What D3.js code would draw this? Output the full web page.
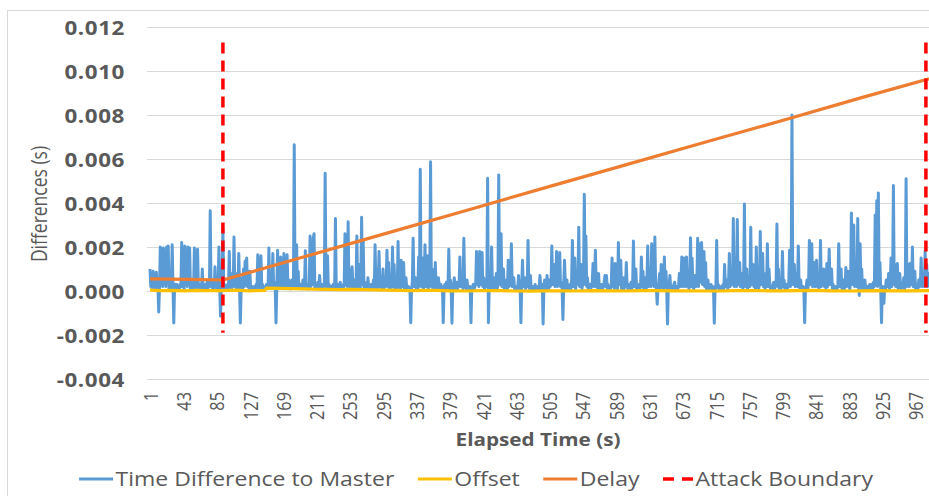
<!DOCTYPE html>
<html><head><meta charset="utf-8">
<script src="https://cdn.jsdelivr.net/npm/d3@7"></script>
<style>body{margin:0;background:#fff}svg{display:block}</style>
</head><body><svg id="c" width="929" height="496"></svg>
<script>
// ---- data (values in milliseconds; the axis shows seconds) ----
const xTickLabels = [1,43,85,127,169,211,253,295,337,379,421,463,505,547,589,631,673,715,757,799,841,883,925,967];
const yTickValues = [-0.004,-0.002,0,0.002,0.004,0.006,0.008,0.010,0.012];
const seriesNames = ["Time Difference to Master","Offset","Delay","Attack Boundary"];
const seriesColors = ["#5b9bd5","#ffc000","#ed7d31","#ff0000"];

// one value per elapsed second, starting at second 1
const timeDiffMs = [
1.0,0.2,0.8,0.1,0.9,0.2,0.7,0.1,0.85,0.2,
0.3,-0.95,0.2,2.0,0.3,1.9,0.2,1.95,0.4,1.8,
0.2,2.0,0.8,2.05,0.1,0.3,0.1,0.4,2.1,0.2,
-1.45,0.2,0.3,0.1,0.3,0.1,0.2,0.1,0.3,0.2,
2.2,0.2,0.5,0.1,2.05,0.3,1.8,0.2,2.0,0.4,
1.95,0.1,0.4,0.1,0.3,0.1,1.95,0.2,1.2,0.1,
1.9,0.2,0.3,0.1,0.3,0.1,1.0,0.1,0.3,0.1,
0.3,0.1,0.4,0.1,0.3,0.2,3.65,0.2,0.4,0.1,
0.5,0.1,1.1,0.2,0.4,0.1,0.3,2.0,0.2,-1.15,
0.2,0.3,2.85,0.1,0.3,0.1,0.2,0.1,0.3,0.1,
1.8,0.2,0.6,0.1,0.8,0.2,2.45,0.2,0.8,0.1,
0.3,0.1,1.7,0.2,-1.45,0.1,0.6,0.1,1.0,0.2,
1.35,0.3,1.5,0.2,0.9,0.1,0.9,0.1,0.2,0.1,
0.2,0.1,0.1,0.2,0.3,0.1,1.65,0.2,0.8,0.1,
1.6,0.2,0.3,0.1,0.2,0.1,0.1,0.3,0.2,0.1,
1.95,0.2,0.5,0.1,0.2,1.7,0.2,0.4,0.1,-1.45,
0.2,1.85,0.2,0.6,0.1,1.55,0.2,0.8,0.1,1.7,
0.2,1.0,0.1,1.65,0.2,0.5,0.1,0.4,0.1,0.5,
0.2,0.2,6.65,0.2,0.6,2.1,0.2,0.9,0.1,0.3,
0.3,0.1,0.2,0.5,0.1,0.3,1.83,0.2,0.1,0.3,
0.1,0.4,2.5,0.2,1.0,0.3,2.4,2.6,0.1,0.3,
0.1,0.2,0.4,0.1,0.7,0.2,0.1,0.3,0.1,0.2,
0.3,5.35,0.2,0.4,1.6,0.1,0.3,0.2,0.1,0.2,
0.1,0.3,0.1,0.2,3.3,0.1,0.2,0.3,0.1,0.2,
0.4,0.1,0.2,0.1,0.3,0.2,2.6,0.3,1.4,0.2,
3.15,0.2,1.0,0.1,0.3,1.1,0.2,0.4,0.5,0.1,
0.3,2.5,0.2,0.5,1.2,0.1,0.4,3.35,0.3,2.3,
0.1,0.4,0.1,0.2,0.1,0.6,0.1,0.2,0.1,0.3,
0.1,0.2,0.5,0.1,2.1,0.2,1.0,0.1,0.3,1.8,
0.2,0.6,0.1,0.3,1.0,0.1,0.4,0.2,0.3,1.85,
0.2,1.3,0.1,0.5,0.1,0.3,2.0,0.2,1.2,0.1,
0.3,0.6,0.1,2.25,0.2,0.5,0.1,1.4,0.2,0.3,
1.3,0.1,0.2,0.6,0.1,0.2,0.2,0.1,0.1,-1.44,
0.1,0.4,2.4,0.2,0.3,0.6,0.1,0.3,0.1,1.55,
0.2,5.53,0.3,0.2,1.5,0.1,0.4,2.1,0.2,0.3,
1.6,0.1,0.2,0.4,5.88,0.2,1.0,0.1,0.3,0.2,
1.3,0.1,0.3,0.1,0.6,0.1,0.2,0.3,0.1,0.2,
-1.44,0.1,0.3,0.1,0.4,0.1,0.2,1.9,0.1,0.5,
0.1,-1.47,0.2,0.3,0.6,0.1,0.2,0.4,0.1,0.2,
0.3,1.55,0.2,0.4,0.6,0.1,2.4,0.2,0.3,0.1,
0.5,0.1,0.2,0.1,0.2,-1.44,0.1,0.2,0.3,0.1,
0.2,0.4,1.8,0.3,1.0,0.2,1.8,0.4,0.3,1.75,
0.2,0.6,0.1,0.3,0.5,0.2,5.12,-1.44,0.2,0.6,
0.1,2.0,0.3,0.2,0.1,0.6,0.2,0.8,0.1,0.3,
5.27,0.3,0.4,2.6,0.2,0.3,1.0,0.1,0.2,0.1,
0.5,0.1,1.4,0.2,0.3,0.4,2.15,0.2,0.3,0.6,
0.1,0.2,0.1,0.2,0.1,0.7,0.2,0.1,-1.44,0.2,
1.4,0.2,0.3,0.6,0.1,0.3,0.2,2.3,0.2,0.1,
0.7,0.1,0.2,0.1,0.2,0.1,0.3,0.1,0.2,0.1,
0.2,0.1,0.7,0.2,0.1,0.3,-1.5,0.1,0.5,0.2,
0.1,0.7,0.2,0.1,0.5,0.2,0.3,2.05,0.3,0.5,
1.2,0.2,0.4,1.8,0.2,1.1,0.3,1.75,0.2,0.4,
0.1,-1.29,0.2,1.4,0.3,0.1,0.5,0.1,0.2,0.1,
0.3,0.1,0.5,2.3,0.2,0.6,1.5,0.1,0.4,0.3,
0.5,2.9,0.2,0.6,1.2,0.1,0.3,0.5,4.4,0.3,
2.5,0.2,0.6,0.1,0.2,0.3,0.1,0.2,0.4,1.25,
0.2,0.5,1.85,0.2,0.4,0.1,0.8,0.1,0.2,0.1,
0.3,0.1,0.2,0.4,0.7,0.2,0.7,0.1,0.3,0.1,
0.2,0.1,0.3,1.5,0.2,0.4,0.1,1.25,0.2,0.6,
0.1,2.2,0.3,0.5,1.4,0.1,0.3,0.6,0.1,0.2,
0.3,1.3,0.2,0.1,0.3,0.1,0.2,0.4,0.1,0.3,
2.27,0.2,0.4,1.0,0.1,0.2,0.1,0.3,0.1,0.2,
1.55,0.2,0.9,0.1,0.3,0.6,0.1,0.3,2.05,0.2,
0.4,1.0,0.2,2.15,0.3,1.2,0.2,2.45,0.3,0.1,
-0.6,0.2,0.4,0.8,0.1,1.2,0.2,0.6,0.1,1.55,
0.2,0.9,0.1,-1.5,0.2,0.3,0.7,0.1,0.2,0.2,
0.1,0.3,0.4,0.1,0.2,0.2,0.1,0.3,0.8,0.2,
0.5,1.55,0.2,0.6,1.5,0.2,0.4,1.55,0.2,0.9,
0.1,0.4,2.42,0.2,1.5,0.3,0.1,0.4,0.7,0.2,
0.3,2.4,0.2,2.15,0.4,1.2,2.2,0.3,0.5,1.8,
0.2,1.3,0.1,0.3,0.5,0.1,0.2,0.1,0.3,0.1,
0.2,0.1,-1.47,0.2,0.1,2.3,0.2,0.3,0.1,0.2,
0.1,0.2,0.1,0.3,0.1,1.2,0.2,0.4,0.5,0.1,
0.4,1.7,0.2,0.5,1.0,0.3,3.3,0.2,0.6,1.5,
0.2,3.25,0.3,0.5,1.3,0.2,0.4,0.8,0.1,0.3,
3.95,0.2,0.5,1.0,0.1,0.3,0.6,0.2,2.9,0.3,
0.5,1.2,0.2,0.8,0.1,2.0,0.2,0.6,0.1,0.3,
2.7,0.3,0.5,1.7,0.2,0.8,0.1,0.3,0.2,2.15,
0.2,1.0,0.3,0.1,0.2,0.1,0.3,0.4,0.1,0.2,
0.3,3.05,0.2,1.0,0.1,0.3,0.1,0.2,1.8,0.2,
0.5,0.1,0.2,0.3,0.1,0.2,0.4,1.85,0.2,0.6,
8.0,0.3,0.5,1.2,0.2,0.3,0.8,0.2,2.05,0.3,
0.1,0.5,0.1,0.2,0.2,0.1,-1.44,0.1,0.2,0.5,
0.1,0.4,2.3,0.3,0.6,2.15,0.2,0.5,1.3,0.2,
0.4,1.4,0.2,0.7,0.1,0.3,2.3,0.2,0.5,0.3,
1.0,0.2,0.6,0.1,1.25,0.2,0.5,1.9,0.3,0.4,
1.0,0.1,0.3,0.1,0.2,0.1,0.2,0.1,0.3,2.15,
0.2,0.4,1.0,0.1,0.3,0.5,0.1,0.2,1.07,0.2,
0.3,0.9,0.2,0.1,0.4,3.55,0.3,0.6,3.0,0.2,
0.5,1.3,0.2,3.3,0.3,-0.2,2.15,0.2,1.0,0.1,
0.3,0.1,0.5,0.1,0.2,0.1,0.2,0.1,0.3,0.1,
0.2,0.3,0.1,0.4,0.2,3.45,0.3,4.1,0.2,4.45,
0.3,1.3,0.1,-1.44,0.2,0.1,-0.56,0.2,0.1,0.5,
0.2,0.3,0.8,0.1,0.4,1.5,0.2,0.5,4.8,0.3,
1.2,0.2,0.4,1.25,0.1,0.3,0.8,0.2,0.1,0.3,
0.2,0.6,0.1,0.3,5.1,0.2,0.5,1.2,0.2,1.25,
0.3,0.5,2.0,0.2,0.4,0.9,0.1,0.3,0.2,0.1,
0.5,0.2,0.3,1.5,0.2,0.4,0.8,0.2,1.8,0.3,
1.2,0.2,0.8,0.3
];
const elapsedSeconds = timeDiffMs.map((v,i)=>i+1);

// [elapsed s, ms]
const offsetMs = [
[1,0.04],[15,0.02],[30,0.03],[45,0.01],[60,0.03],[75,0.02],[93,0.02],[110,0.04],[125,0.01],[146,0.03],[148,0.13],[165,0.12],[180,0.11],[195,0.1],[210,0.08],[225,0.07],[240,0.06],[255,0.07],[270,0.06],[285,0.05],[300,0.04],[315,0.03],[330,0.02],[345,0.03],[360,0.03],[380,0.01],[400,0.0],[420,0.02],[440,0.02],[460,0.0],[480,-0.01],[500,0.01],[520,0.01],[540,0.0],[560,0.02],[580,0.01],[600,0.0],[620,0.02],[640,0.02],[660,0.01],[680,0.01],[700,0.0],[720,0.0],[740,0.02],[760,0.02],[780,0.01],[800,0.01],[820,0.02],[840,0.03],[860,0.01],[880,0.0],[900,0.01],[920,0.02],[940,0.01],[960,0.01],[984,0.02]
];
const delayMs = [[1,0.55],[50,0.53],[93,0.5],[200,1.6],[300,2.63],[400,3.66],[500,4.7],[600,5.72],[700,6.75],[800,7.76],[900,8.8],[984,9.65]];

const attackBoundaryTimes = [93, 980];
const attackBoundaryRangeMs = [-1.9, 11.3];

// ---- drawing ----
const SX = 1.15;   // horizontal stretch of the original's text
const SXR = 1.22;  // same stretch for rotated text (acts on glyph height)
const svg = d3.select("#c");
svg.append("rect").attr("width",929).attr("height",496).attr("fill","#fff");
svg.append("rect").attr("x",7.5).attr("y",10.5).attr("width",960).attr("height",520)
  .attr("fill","none").attr("stroke","#d9d9d9");

const plotLeft = 147, plotRight = 929;
const x = d3.scaleLinear().domain([1,967]).range([150,915.6]);
const y = d3.scaleLinear().domain([-0.004,0.012]).range([379,27]);
const ms = v => v/1000;
const fmt = v => d3.format(".3f")(v).replace("\u2212","-");
const grey = "#595959";
const font = "'Open Sans', 'Liberation Sans', sans-serif";

// gridlines
const grid = svg.append("g").attr("transform",`translate(${plotLeft},0)`)
  .call(d3.axisLeft(y).tickValues(yTickValues).tickSize(-(plotRight-plotLeft)).tickFormat(""));
grid.select(".domain").remove();
grid.selectAll("line").attr("stroke","#d9d9d9").attr("stroke-width",1);

// y labels
const yAx = svg.append("g").attr("transform","translate(125,0)")
  .call(d3.axisLeft(y).tickValues(yTickValues).tickSize(0).tickPadding(0).tickFormat(fmt));
yAx.select(".domain").remove();
yAx.selectAll("text").attr("x",0).attr("dy","0.36em")
  .attr("transform",`scale(${SX},1)`)
  .style("font-family",font).style("font-weight","bold").style("font-size","19.5px")
  .style("letter-spacing","0.5px").attr("fill",grey);

// x labels
const xAx = svg.append("g").attr("transform","translate(0,392)")
  .call(d3.axisBottom(x).tickValues(xTickLabels).tickSize(0).tickFormat(d3.format("d")));
xAx.select(".domain").remove();
xAx.selectAll("text").attr("x",0).attr("y",0).attr("dy","0.36em")
  .attr("transform",`scale(${SXR},1) rotate(-90)`).style("text-anchor","end")
  .style("font-family",font).style("font-size","16.3px").attr("fill",grey);

// axis titles
svg.append("text").attr("transform",`translate(538,446) scale(${SX},1)`)
  .attr("text-anchor","middle").style("font-family",font).style("font-weight","bold")
  .style("font-size","18px").attr("fill",grey).text("Elapsed Time (s)");
svg.append("text").attr("transform",`translate(39,204) scale(${SXR},1) rotate(-90)`)
  .attr("text-anchor","middle").attr("dy","0.36em").style("font-family",font)
  .style("font-size","17.5px").attr("fill",grey).text("Differences (s)");

// series
const line = d3.line().x(d=>x(d[0])).y(d=>y(ms(d[1])));
const plot = svg.append("g");
plot.append("path").datum(elapsedSeconds.map((t,i)=>[t,timeDiffMs[i]])).attr("d",line).attr("fill","none")
  .attr("stroke",seriesColors[0]).attr("stroke-width",3).attr("stroke-linejoin","round");
plot.append("path").datum(offsetMs).attr("d",line).attr("fill","none")
  .attr("stroke",seriesColors[1]).attr("stroke-width",3.2).attr("stroke-linejoin","round");
plot.append("path").datum(delayMs).attr("d",line).attr("fill","none")
  .attr("stroke",seriesColors[2]).attr("stroke-width",3.2).attr("stroke-linejoin","round");
plot.selectAll(".ab").data(attackBoundaryTimes).join("line").attr("class","ab")
  .attr("x1",d=>x(d)).attr("x2",d=>x(d))
  .attr("y1",y(ms(attackBoundaryRangeMs[1]))).attr("y2",y(ms(attackBoundaryRangeMs[0])))
  .attr("stroke",seriesColors[3]).attr("stroke-width",3.5).attr("stroke-dasharray","11,7");

// legend
const legendY = 479, symW = 34, symGap = 2.5, itemGap = 23.5;
const lg = svg.append("g");
let cx = 0;
seriesNames.forEach((name,i)=>{
  const item = lg.append("g").attr("transform",`translate(${cx},0)`);
  const sw = i===3 ? 30 : symW;
  item.append("line").attr("x1",0).attr("x2",sw).attr("y1",legendY).attr("y2",legendY)
    .attr("stroke",seriesColors[i]).attr("stroke-width",i===3?3.5:3)
    .attr("stroke-dasharray", i===3 ? "11,8" : null);
  const t = item.append("text").attr("transform",`translate(${sw+symGap},${legendY}) scale(${SX},1)`)
    .attr("dy","0.36em").style("font-family",font).style("font-size","20px")
    .attr("fill",grey).text(name);
  cx += sw + symGap + t.node().getComputedTextLength()*SX + itemGap;
});
const total = cx - itemGap;
lg.attr("transform",`translate(${476 - total/2},0)`);
</script></body></html>
